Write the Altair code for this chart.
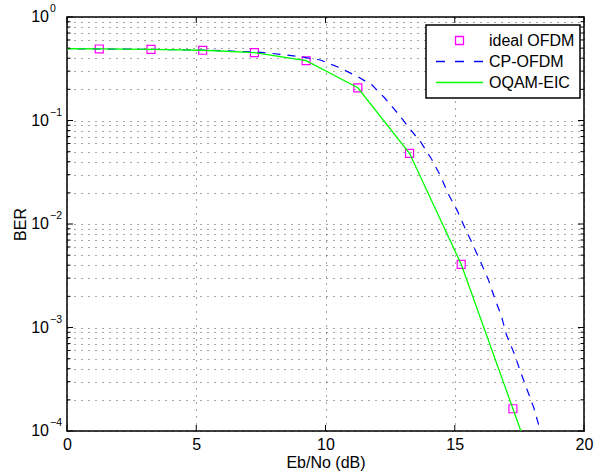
import altair as alt
import pandas as pd

FONT = "Liberation Sans"

# ---- data ----
ideal_x = [1.25, 3.25, 5.25, 7.25, 9.25, 11.25, 13.25, 15.25, 17.25]
ideal_ber = [0.491, 0.487, 0.477, 0.452, 0.378, 0.207, 0.0482, 0.00408, 0.000164]

cp_x = [-0.75, 1.25, 3.25, 5.25, 6.0, 7.5, 8.25, 9.1, 9.8, 10.5, 11.2, 11.8, 12.3,
        12.8, 13.25, 13.7, 14.1, 14.45, 14.75, 15.1, 15.4, 15.7, 16.0, 16.3, 16.55,
        16.8, 17.0, 17.3, 17.55, 17.8, 18.05, 18.25, 18.45]
cp_ber = [0.495, 0.491, 0.487, 0.478, 0.472, 0.456, 0.436, 0.411, 0.384, 0.327, 0.269,
          0.220, 0.164, 0.117, 0.084, 0.061, 0.0425, 0.0291, 0.0195, 0.0134, 0.0091,
          0.0063, 0.0043, 0.0029, 0.0019, 0.0013, 0.00085, 0.00056, 0.00037, 0.00025,
          0.00017, 0.000114, 0.000078]

eic_x = [-0.75, 1.25, 3.25, 5.25, 7.25, 9.25, 11.25, 13.25, 15.25, 17.25, 19.25]
eic_ber = [0.495, 0.491, 0.487, 0.477, 0.452, 0.378, 0.207, 0.0482, 0.00408, 0.000164, 0.0000066]

series_names = ["ideal OFDM", "CP-OFDM", "OQAM-EIC"]
series_colors = ["#ff00ff", "#0000ff", "#00ff00"]
series_shapes = [
    "M-0.17,-0.17H0.17V0.17H-0.17Z",
    "M-1,0H-0.62M-0.19,0H0.19M0.62,0H1",
    "M-1,0H1",
]

x_ticks = [0, 5, 10, 15, 20]
y_decades = [1, 0.1, 0.01, 0.001, 0.0001]
y_exponents = ["0", "\u22121", "\u22122", "\u22123", "\u22124"]
y_minor = [m * 10.0 ** e for e in range(-4, 0) for m in range(2, 10)]
y_grid = sorted(y_decades + y_minor)

W, H = 517, 414
FS = 16

ideal_df = pd.DataFrame({"x": ideal_x, "y": ideal_ber, "series": series_names[0]})
cp_df = pd.DataFrame({"x": cp_x, "y": cp_ber})
eic_df = pd.DataFrame({"x": eic_x, "y": eic_ber})
xt_df = pd.DataFrame({"x": x_ticks})
ymaj_df = pd.DataFrame({"y": y_decades, "exp": y_exponents})
ymin_df = pd.DataFrame({"y": y_minor})

xs = alt.Scale(domain=[0, 20], nice=False, zero=False)
ys = alt.Scale(type="log", domain=[1e-4, 1], nice=False)

grid_style = dict(gridDash=[1, 6], gridColor="#000000", gridOpacity=0.7, gridWidth=1)

X = alt.X("x:Q", scale=xs, axis=alt.Axis(
    values=x_ticks, title="Eb/No (dB)", ticks=False, domain=False, grid=True,
    labelFont=FONT, labelFontSize=FS, labelColor="#000", labelPadding=5,
    labelFlush=False, labelOverlap=False, format="d",
    titleFont=FONT, titleFontSize=FS, titleFontWeight="normal", titleColor="#000",
    titlePadding=2, **grid_style))
Y = alt.Y("y:Q", scale=ys, axis=alt.Axis(
    values=y_grid, labels=False, ticks=False, domain=False, grid=True,
    title="BER", titleFont=FONT, titleFontSize=FS, titleFontWeight="normal",
    titleColor="#000", titleX=-47, titleY=207, titleAlign="center",
    titleBaseline="middle", **grid_style))

legend = alt.Legend(
    title=None, orient="none", legendX=359, legendY=8, direction="vertical",
    fillColor="white", strokeColor="black", padding=5,
    labelFont=FONT, labelFontSize=FS, labelColor="#000", labelOffset=5,
    symbolSize=2209, symbolStrokeWidth=1.3, clipHeight=21, rowPadding=0,
    symbolOffset=4)

points = alt.Chart(ideal_df).mark_point(filled=False, size=2209, strokeWidth=1.2, opacity=1, clip=True).encode(
    x=X, y=Y,
    color=alt.Color("series:N", scale=alt.Scale(domain=series_names, range=series_colors), legend=legend),
    shape=alt.Shape("series:N", scale=alt.Scale(domain=series_names, range=series_shapes), legend=legend),
)

cp_line = alt.Chart(cp_df).mark_line(color="#0000ff", strokeWidth=1.2, strokeDash=[8, 7], clip=True).encode(
    x=X, y=Y)
eic_line = alt.Chart(eic_df).mark_line(color="#00ff00", strokeWidth=1.3, clip=True).encode(
    x=X, y=Y)

# inward ticks (MATLAB style) on all four sides
xt_bottom = alt.Chart(xt_df).mark_rule(color="#000", strokeWidth=1).encode(
    x=X, y=alt.value(H), y2=alt.value(H - 6))
xt_top = alt.Chart(xt_df).mark_rule(color="#000", strokeWidth=1).encode(
    x=X, y=alt.value(0), y2=alt.value(6))
yt_left = alt.Chart(ymaj_df).mark_rule(color="#000", strokeWidth=1).encode(
    y=Y, x=alt.value(0), x2=alt.value(6))
yt_right = alt.Chart(ymaj_df).mark_rule(color="#000", strokeWidth=1).encode(
    y=Y, x=alt.value(W), x2=alt.value(W - 6))
ym_left = alt.Chart(ymin_df).mark_rule(color="#000", strokeWidth=1).encode(
    y=Y, x=alt.value(0), x2=alt.value(3.5))
ym_right = alt.Chart(ymin_df).mark_rule(color="#000", strokeWidth=1).encode(
    y=Y, x=alt.value(W), x2=alt.value(W - 3.5))

# y labels as 10 with superscript exponent
ylab_base = alt.Chart(ymaj_df).mark_text(
    font=FONT, fontSize=FS, align="right", baseline="middle", color="#000").encode(
    y=Y, x=alt.value(-18), text=alt.value("10"))
ylab_exp = alt.Chart(ymaj_df).mark_text(
    font=FONT, fontSize=10.5, align="left", baseline="middle", color="#000", dy=-8).encode(
    y=Y, x=alt.value(-17), text="exp:N")

chart = alt.layer(
    points, cp_line, eic_line,
    xt_bottom, xt_top, yt_left, yt_right, ym_left, ym_right,
    ylab_base, ylab_exp,
).properties(
    width=W, height=H,
    autosize=alt.AutoSizeParams(type="none"),
    padding={"left": 67, "top": 17, "right": 13, "bottom": 44},
    background="white",
).configure_view(
    stroke="#000", strokeWidth=1.5
).configure_legend(
    strokeWidth=1.5
)

chart.save("out.html", embed_options={"renderer": "svg", "actions": False})
